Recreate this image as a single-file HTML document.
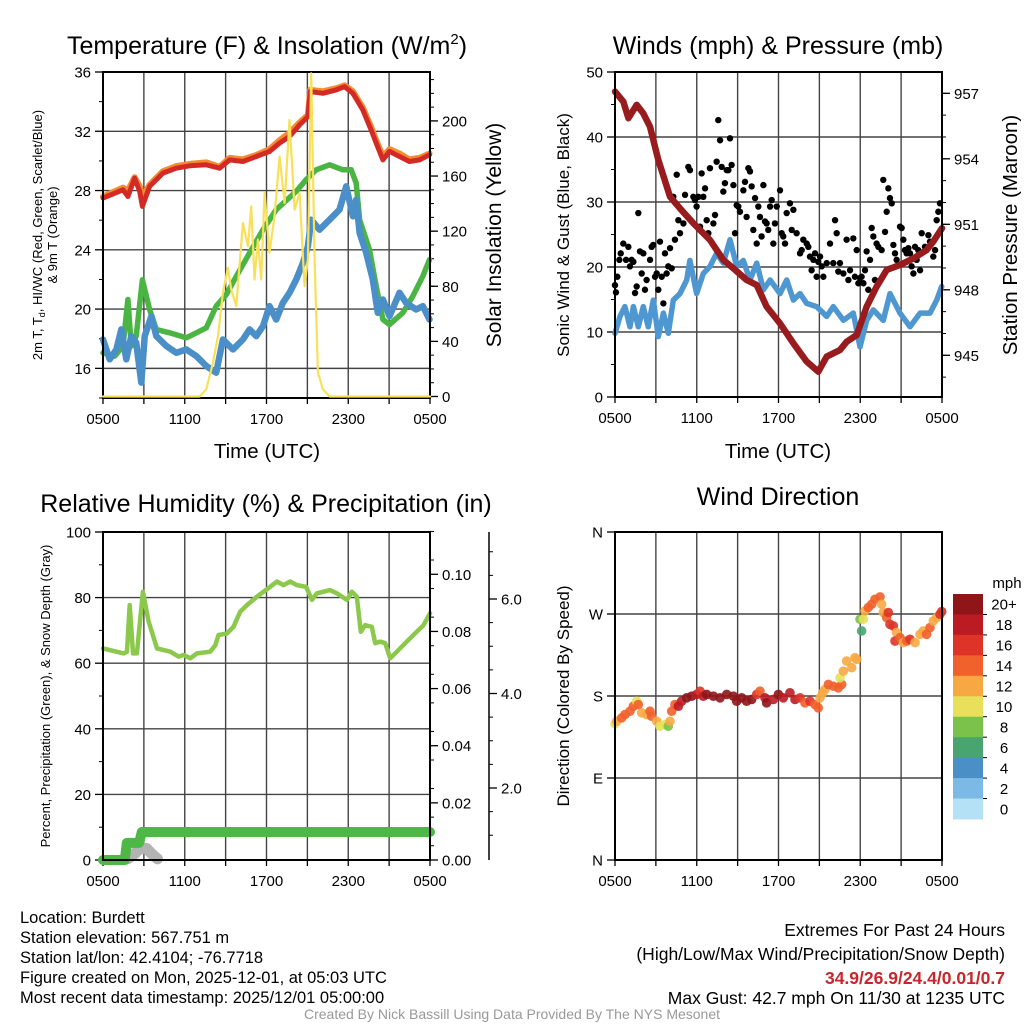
<!DOCTYPE html>
<html><head><meta charset="utf-8"><style>
html,body{margin:0;padding:0;background:#fff;}
svg text{font-family:"Liberation Sans",sans-serif;}
</style></head><body>
<svg id="root" xmlns="http://www.w3.org/2000/svg" width="1024" height="1024" viewBox="0 0 1024 1024">
<rect width="1024" height="1024" fill="#fff"/>
<g id="layer"></g>
<text x="267" y="54" font-size="25" text-anchor="middle">Temperature (F) &amp; Insolation (W/m<tspan dy="-10" font-size="15">2</tspan><tspan dy="10">)</tspan></text>
<text x="778" y="54" font-size="25" text-anchor="middle">Winds (mph) &amp; Pressure (mb)</text>
<text x="266" y="512" font-size="25" text-anchor="middle">Relative Humidity (%) &amp; Precipitation (in)</text>
<text x="778" y="505" font-size="25" text-anchor="middle">Wind Direction</text>
<text x="267" y="458" font-size="20.5" text-anchor="middle">Time (UTC)</text>
<text x="778" y="458" font-size="20.5" text-anchor="middle">Time (UTC)</text>
<text transform="translate(42,235) rotate(-90)" font-size="13" text-anchor="middle">2m T, T<tspan dy="3" font-size="9">d</tspan><tspan dy="-3">, HI/WC (Red, Green, Scarlet/Blue)</tspan></text>
<text transform="translate(57,235) rotate(-90)" font-size="13" text-anchor="middle">&amp; 9m T (Orange)</text>
<text transform="translate(501,235) rotate(-90)" font-size="21" text-anchor="middle">Solar Insolation (Yellow)</text>
<text transform="translate(569,235) rotate(-90)" font-size="17" text-anchor="middle">Sonic Wind &amp; Gust (Blue, Black)</text>
<text transform="translate(1017,235) rotate(-90)" font-size="20.5" text-anchor="middle">Station Pressure (Maroon)</text>
<text transform="translate(50,696) rotate(-90)" font-size="13" text-anchor="middle">Percent, Precipitation (Green), &amp; Snow Depth (Gray)</text>
<text transform="translate(569,696) rotate(-90)" font-size="17" text-anchor="middle">Direction (Colored By Speed)</text>
<g font-size="16.5">
<text x="20" y="923">Location: Burdett</text>
<text x="20" y="943">Station elevation: 567.751 m</text>
<text x="20" y="963">Station lat/lon: 42.4104; -76.7718</text>
<text x="20" y="983">Figure created on Mon, 2025-12-01, at 05:03 UTC</text>
<text x="20" y="1003">Most recent data timestamp: 2025/12/01 05:00:00</text>
</g>
<g font-size="17.5" text-anchor="end">
<text x="1005" y="936">Extremes For Past 24 Hours</text>
<text x="1005" y="960">(High/Low/Max Wind/Precipitation/Snow Depth)</text>
<text x="1005" y="984" fill="#c8252c" font-weight="bold">34.9/26.9/24.4/0.01/0.7</text>
<text x="1005" y="1004">Max Gust: 42.7 mph On 11/30 at 1235 UTC</text>
</g>
<text x="512" y="1019" font-size="14" fill="#999" text-anchor="middle">Created By Nick Bassill Using Data Provided By The NYS Mesonet</text>
</svg>
<script>
// ---------- data ----------
const timeTicks=["0500","1100","1700","2300","0500"];
const tempTicks=[16,20,24,28,32,36];
const solarTicks=[0,40,80,120,160,200];
const windTicks=[0,10,20,30,40,50];
const presTicks=[945,948,951,954,957];
const rhTicks=[0,20,40,60,80,100];
const precipTicks=["0.00","0.02","0.04","0.06","0.08","0.10"];
const snowTicks=["2.0","4.0","6.0"];
const dirTicks=["N","E","S","W","N"];
const speedBins=["0","2","4","6","8","10","12","14","16","18","20+"];
const speedColors=["#b5e1f7","#7cb9e4","#4a8fc6","#48a56f","#7ac24a","#e8e05a","#f8a843","#f1612b","#de3428","#bb1c24","#8f1519"];

const tH=[0,1.47,1.83,2.32,2.69,2.89,3.42,4.4,5.38,6.36,7.58,8.56,9.29,10.27,11.25,12.22,12.96,13.69,14.43,15.04,15.21,16.14,17.11,17.73,18.34,19.07,19.68,20.05,20.54,21.03,21.76,22.49,23.23,23.96];
const tempT=[27.49,28.05,27.6,28.84,27.94,26.93,28.28,29.18,29.51,29.67,29.74,29.51,30.07,29.96,30.3,30.64,31.2,31.65,32.43,32.99,34.68,34.56,34.79,35.01,34.56,33.44,32.09,31.2,30.07,30.64,30.3,29.96,30.07,30.41];
const temp9m=[27.6,28.2,28.0,28.9,28.3,27.5,28.4,29.3,29.65,29.8,29.9,29.6,30.2,30.1,30.4,30.8,31.4,31.9,32.6,33.1,34.8,34.7,34.9,35.1,34.7,33.6,32.3,31.4,30.3,30.8,30.5,30.1,30.2,30.5];
const tdH=[0,0.86,1.47,1.83,2.08,2.44,2.89,3.42,3.91,4.89,6.11,6.36,7.58,8.31,9.05,9.78,10.76,11.74,12.71,14.18,14.91,15.65,16.63,17.6,18.22,18.58,18.83,19.56,20.05,20.54,21.03,22.0,22.74,23.47,23.96];
const tempTd=[17.05,16.83,17.5,20.65,17.5,18.17,21.98,19.97,18.62,18.4,18.07,18.17,18.74,20.2,20.98,22.21,23.79,25.36,26.71,27.94,28.73,29.4,29.74,29.4,29.4,28.5,26.03,24.01,21.54,19.3,18.96,19.75,20.87,22.21,23.34];
const wcH=[0,0.49,0.98,1.34,1.71,2.08,2.44,2.81,3.06,3.55,3.91,4.65,5.38,6.11,6.85,7.58,8.31,8.8,9.54,10.27,10.76,11.25,11.74,12.22,12.71,13.2,13.69,14.18,14.67,15.04,15.28,15.89,16.63,17.36,17.85,18.34,18.58,18.83,19.32,19.8,20.17,20.54,21.03,21.76,22.25,22.98,23.47,23.96];
const tempWC=[17.95,16.61,17.28,18.63,16.61,18.18,17.73,15.04,18.18,19.52,18.18,17.5,17.05,17.28,16.83,16.16,15.71,17.95,17.28,17.95,18.63,18.18,18.85,20.2,19.3,20.42,21.1,21.99,23.11,24.24,26.03,25.36,26.03,26.71,28.28,26.26,27.38,25.14,23.79,22.0,19.75,20.65,19.52,21.1,20.42,19.97,20.2,19.3];
const solH=[0,7.09,7.58,8.07,8.44,8.8,9.17,9.41,9.78,10.27,10.64,10.88,11.12,11.37,11.61,11.86,12.22,12.59,12.96,13.33,13.69,14.06,14.43,14.79,15.04,15.28,15.53,15.77,16.14,16.63,24];
const solar=[0,0,5.3,24.6,43.9,75.3,93.4,77.7,65.6,125.9,109,138,84.9,113.9,84.9,147.6,104.3,130.8,174.2,140.4,200.7,135.6,147.6,80.1,99.4,234.5,99.4,17.5,5.3,0,0];

const presH=[0,0.61,0.98,1.59,2.08,2.57,3.18,4.04,4.77,5.75,6.97,7.95,8.69,9.66,10.4,11.13,12.11,13.09,14.07,14.92,15.54,16.51,17.0,17.74,18.47,19.2,19.94,20.92,21.9,22.87,23.36,24];
const pressure=[957.08,956.62,955.86,956.47,956.08,955.47,953.95,952.27,951.73,951.05,950.28,949.37,948.98,948.45,948.22,947.23,946.46,945.55,944.71,944.25,944.94,945.24,945.62,945.93,947.23,948.14,948.91,949.14,949.44,949.82,950.21,950.82];
const windH=[0,0.37,0.73,1.1,1.35,1.71,2.08,2.44,2.81,3.18,3.55,3.91,4.28,4.77,5.26,5.5,5.99,6.48,6.97,7.46,7.95,8.44,8.93,9.42,9.91,10.4,10.89,11.38,12.11,12.6,13.09,13.58,14.07,14.8,15.54,16.02,16.76,17.49,17.98,18.47,18.96,19.69,20.18,20.92,21.65,22.39,23.12,23.61,23.98];
const wind=[9.8,12.4,13.9,10.8,13.9,10.8,13.9,10.8,14.9,9.3,12.9,9.8,14.9,15.9,18.0,21.0,15.9,19.0,20.1,22.1,20.6,24.2,20.1,21.0,18.0,20.6,16.5,18.0,15.9,18.0,14.9,15.9,14.4,13.9,12.4,13.9,11.8,12.9,7.7,11.8,13.4,11.8,15.9,12.9,10.8,12.9,12.9,14.9,17.0];
const gustH=[0,0.07,0.17,0.32,0.42,0.61,0.81,0.98,1.1,1.22,1.35,1.47,1.59,1.71,1.83,1.96,2.08,2.2,2.32,2.57,2.69,2.81,2.94,3.06,3.18,3.3,3.43,3.55,3.67,3.79,3.91,4.04,4.16,4.28,4.4,4.53,4.65,4.77,5.02,5.14,5.38,5.5,5.75,5.87,5.99,6.12,6.24,6.36,6.48,6.61,6.73,6.85,6.97,7.22,7.34,7.46,7.58,7.71,7.83,7.95,8.07,8.2,8.32,8.44,8.56,8.69,8.81,8.93,9.05,9.17,9.42,9.54,9.66,9.79,9.91,10.03,10.15,10.28,10.4,10.52,10.64,10.76,10.89,11.01,11.13,11.25,11.38,11.5,11.62,11.74,11.87,12.11,12.23,12.35,12.48,12.6,12.84,12.97,13.09,13.33,13.58,13.7,13.82,14.07,14.19,14.31,14.43,14.56,14.68,14.8,14.92,15.05,15.17,15.29,15.54,15.78,16.02,16.15,16.27,16.39,16.51,16.76,17.0,17.13,17.25,17.49,17.61,17.74,17.86,17.98,18.1,18.23,18.35,18.47,18.59,18.72,18.84,18.96,19.08,19.2,19.33,19.57,19.69,19.82,19.94,20.06,20.18,20.31,20.43,20.55,20.67,20.92,21.04,21.16,21.28,21.41,21.53,21.65,21.77,21.9,22.02,22.14,22.26,22.39,22.51,22.75,23.0,23.12,23.36,23.49,23.61,23.73,23.85];
const gust=[17.2,16.1,18.5,21.1,22.1,23.6,21.1,23.1,20.1,21.1,20.8,16.0,17.0,28.3,22.4,19.0,22.1,16.5,18.0,21.1,23.1,23.4,18.5,19.0,16.5,23.9,18.5,14.4,22.1,19.0,20.1,22.9,19.8,30.8,24.2,34.2,27.2,25.2,26.7,31.1,35.4,34.9,30.8,30.3,29.3,30.8,26.2,34.4,30.8,32.1,27.2,25.2,35.2,26.7,28.0,36.2,42.6,39.5,35.4,31.6,32.9,34.9,34.9,39.8,35.7,32.6,25.2,29.5,29.3,28.5,31.8,33.1,27.7,35.2,34.7,32.4,25.7,30.6,23.6,29.3,27.7,24.7,32.6,27.0,26.7,25.7,29.3,30.3,23.6,26.7,29.3,31.8,25.2,24.7,23.6,28.3,29.8,25.7,28.8,25.2,22.1,22.6,24.2,23.6,23.1,21.6,19.5,21.1,22.1,18.5,20.8,21.6,20.1,18.5,20.6,23.6,20.6,27.2,25.2,19.3,20.6,19.0,24.2,18.0,19.5,24.4,18.5,22.6,17.5,18.3,18.5,17.5,19.5,22.4,16.5,21.1,26.0,24.7,18.0,23.6,23.1,22.6,33.4,25.4,28.5,32.1,30.6,29.8,23.4,22.1,21.1,26.2,26.0,24.2,22.6,22.1,22.9,22.1,20.1,19.0,23.1,21.1,22.6,19.5,25.2,23.1,24.9,23.9,21.6,22.6,27.2,28.5,29.8];

const rhH=[0,1.52,1.76,1.96,2.2,2.49,2.93,3.35,3.96,4.94,5.55,5.92,6.41,6.89,7.87,8.24,8.48,9.1,9.58,10.07,10.56,11.3,12.27,12.76,13.25,13.74,14.23,14.91,15.33,15.7,16.67,17.16,17.9,18.26,18.63,18.92,19.24,19.73,19.98,20.34,20.71,21.08,21.56,22.3,23.03,23.52,24];
const rh=[64.5,63.0,63.5,77.7,63.0,63.0,81.8,72.7,64.5,63.5,62.0,62.5,61.5,63.0,63.5,65.5,68.6,69.1,71.1,75.7,77.7,80.3,83.3,84.9,83.8,84.9,83.8,83.3,79.3,81.3,82.3,81.3,79.3,81.8,80.3,69.6,71.6,71.1,66.1,66.6,66.1,61.5,63.5,66.6,69.6,71.6,75.2];
const precipH=[0,1.6,1.75,2.65,2.85,24];
const precip=[0,0,0.006,0.006,0.0098,0.0098];
const snowH=[1.8,2.3,2.7,3.2,3.6,4.0];
const snow=[0.5,0.6,0.72,0.72,0.6,0.5];

const dirH=[0,0.12,0.49,0.73,1.1,1.35,1.59,1.71,1.96,2.32,2.57,2.69,3.06,3.3,3.67,3.91,4.04,4.16,4.4,4.65,4.89,5.26,5.63,5.99,6.24,6.48,6.73,7.22,7.71,8.2,8.69,8.93,9.3,9.66,10.03,10.4,10.64,11.01,11.13,11.62,11.99,12.35,12.84,13.21,13.58,13.94,14.31,14.68,14.92,15.05,15.24,15.41,15.66,16.02,16.39,16.64,16.51,16.76,17.0,17.37,17.61,17.74,17.98,18.1,18.23,18.35,18.59,18.84,19.08,19.45,19.57,19.69,19.94,20.06,20.18,20.43,20.67,20.55,20.92,21.16,21.41,21.65,22.02,22.39,22.63,22.87,23.12,23.36,23.61,23.85,23.98];
const dirDeg=[149.4,152.3,156.0,159.6,163.3,168.8,174.3,170.6,161.5,159.6,163.3,157.8,152.3,146.8,148.6,146.8,152.3,163.3,170.6,168.8,174.3,178.0,179.8,181.7,185.3,179.8,181.7,179.8,178.0,181.7,179.8,174.3,178.0,174.3,176.2,181.7,185.3,178.0,172.5,176.2,181.7,178.0,183.5,176.2,178.0,172.5,174.3,170.6,167.0,178.0,183.5,187.2,192.7,190.8,189.0,192.7,200.0,207.3,218.3,211.1,222.1,220.2,264.2,251.4,264.2,273.4,277.1,280.7,286.2,288.8,280.7,271.6,266.1,271.6,258.7,256.9,249.6,240.3,244.1,238.6,240.3,242.2,238.6,247.7,251.4,247.7,255.1,262.4,266.1,269.7,272.7];
const dirSpeed=[10,12,14,14,14,14,11,14,12,12,14,14,12,10,10,8,12,14,14,18,18,20,20,18,16,18,20,20,20,20,20,20,20,20,20,16,14,18,20,18,20,18,18,18,16,14,16,14,14,12,12,12,14,14,14,14,10,12,12,12,12,12,8,6,10,12,14,14,14,14,12,12,14,16,16,16,12,16,14,12,14,16,12,12,12,14,14,12,12,16,16];

// ---------- helpers ----------
const NS="http://www.w3.org/2000/svg";
const layer=document.getElementById('layer');
function mk(tag,attrs,parent){const e=document.createElementNS(NS,tag);for(const k in attrs)e.setAttribute(k,attrs[k]);(parent||layer).appendChild(e);return e;}
function lin(d0,d1,r0,r1){return v=>r0+(v-d0)/(d1-d0)*(r1-r0);}
function pathFrom(xa,ya,fx,fy){let s='';for(let i=0;i<xa.length;i++){s+=(i?'L':'M')+fx(xa[i]).toFixed(1)+','+fy(ya[i]).toFixed(1);}return s;}

function frame(name,x0,y0,x1,y1){
  const g=mk('g',{});
  
  
  const xs=lin(0,24,x0,x1);
  for(let h=3;h<24;h+=3){const l=mk('line',{x1:xs(h),x2:xs(h),y1:y0,y2:y1,stroke:'#444','stroke-width':1.4},g);
    }
  for(let h=0;h<=24;h+=3){const l=mk('line',{x1:xs(h),x2:xs(h),y1:y1,y2:y1+6,stroke:'#000','stroke-width':1.3},g);
    }
  for(let i=0;i<timeTicks.length;i++){const t=mk('text',{x:xs(i*6),y:y1+26,'font-size':15,'text-anchor':'middle'},g);t.textContent=timeTicks[i];
    }
  return {g,xs};
}
function hgrid(g,ys,vals,x0,x1){for(const v of vals){const l=mk('line',{x1:x0,x2:x1,y1:ys(v),y2:ys(v),stroke:'#444','stroke-width':1.4},g);
  }}
function yaxis(g,ys,vals,labels,x,side,minor){
  const d=side==='left'?-1:1;
  for(const m of (minor||[])){const l=mk('line',{x1:x,x2:x+d*4,y1:ys(m),y2:ys(m),stroke:'#000','stroke-width':1},g);
    }
  vals.forEach((v,i)=>{const l=mk('line',{x1:x,x2:x+d*8,y1:ys(v),y2:ys(v),stroke:'#000','stroke-width':1.3},g);
    
    const t=mk('text',{x:x+d*12,y:ys(v)+5.5,'font-size':15,'text-anchor':side==='left'?'end':'start'},g);t.textContent=labels[i];
    });
}
function box(g,x0,y0,x1,y1){const r=mk('rect',{x:x0,y:y0,width:x1-x0,height:y1-y0,fill:'none',stroke:'#000','stroke-width':2},g);
  }
function line(g,xa,ya,fx,fy,col,w,name){const p=mk('path',{d:pathFrom(xa,ya,fx,fy),fill:'none',stroke:col,'stroke-width':w,'stroke-linejoin':'round','stroke-linecap':'round'},g);
  return p;}

// ---------- panel 1: temperature ----------
(function(){
  const x0=103,y0=72,x1=430,y1=398;
  const {g,xs}=frame('temp',x0,y0,x1,y1);
  const ys=lin(14,36,y1,y0), ysol=lin(0,235.5,y1-1.5,y0);
  hgrid(g,ys,tempTicks,x0,x1);
  yaxis(g,ys,tempTicks,tempTicks.map(String),x0,'left',[14,18,22,26,30,34]);
  const mn=[];for(let v=10;v<235;v+=10)mn.push(v);
  yaxis(g,ysol,solarTicks,solarTicks.map(String),x1,'right',mn);
  line(g,tH,temp9m,xs,ys,'#f58b33',6,'temp-9m-line');
  line(g,tH,tempT,xs,ys,'#d42a26',5,'temp-2m-line');
  line(g,tdH,tempTd,xs,ys,'#4bb544',5.5,'dewpoint-line');
  line(g,wcH,tempWC,xs,ys,'#4a8fc8',6.5,'windchill-line');
  box(g,x0,y0,x1,y1);
  line(g,solH,solar,xs,ysol,'#f8e05a',2.2,'solar-line');
})();

// ---------- panel 2: wind & pressure ----------
(function(){
  const x0=615,y0=72,x1=942,y1=397;
  const {g,xs}=frame('wind',x0,y0,x1,y1);
  const ys=lin(0,50,y1,y0), yp=lin(945,957,355.3,93.3);
  hgrid(g,ys,windTicks,x0,x1);
  yaxis(g,ys,windTicks,windTicks.map(String),x0,'left',[5,15,25,35,45]);
  const pm=[];for(let v=944;v<958;v++)pm.push(v);
  yaxis(g,yp,presTicks,presTicks.map(String),x1,'right',pm);
  line(g,windH,wind,xs,ys,'#4f97d1',5.5,'sonic-wind-line');
  const gg=mk('g',{},g);
  
  
  gustH.forEach((h,i)=>{const c=mk('circle',{cx:xs(h),cy:ys(gust[i]),r:3.2,fill:'#000'},gg);
    });
  line(g,presH,pressure,xs,yp,'#981b1e',6.5,'pressure-line');
  box(g,x0,y0,x1,y1);
})();

// ---------- panel 3: RH & precip ----------
(function(){
  const x0=103,y0=532,x1=430,y1=860;
  const {g,xs}=frame('rh',x0,y0,x1,y1);
  const ys=lin(0,100,y1,y0), ypr=lin(0,0.1,y1,574.3), ysn=lin(2,6,788,599);
  hgrid(g,ys,rhTicks,x0,x1);
  yaxis(g,ys,rhTicks,rhTicks.map(String),x0,'left',[10,30,50,70,90]);
  const pm=[];for(let v=0.005;v<0.115;v+=0.01)pm.push(v);
  yaxis(g,ypr,[0,0.02,0.04,0.06,0.08,0.1],precipTicks,x1,'right',pm);
  const sx=489;
  const al=mk('line',{x1:sx,x2:sx,y1:y0,y2:y1,stroke:'#000','stroke-width':1.5},g);
  
  const sm=[];for(let v=1;v<=7;v+=0.5){if(ysn(v)>y0&&ysn(v)<y1)sm.push(v);}
  yaxis(g,ysn,[2,4,6],snowTicks,sx,'right',sm);
  line(g,snowH,snow,xs,ysn,'#b3b3b3',11,'snow-depth-line');
  line(g,rhH,rh,xs,ys,'#8cc84b',4.5,'rh-line');
  line(g,precipH,precip,xs,ypr,'#4db748',10,'precip-line');
  box(g,x0,y0,x1,y1);
})();

// ---------- panel 4: wind direction ----------
(function(){
  const x0=615,y0=532,x1=942,y1=860;
  const {g,xs}=frame('direction',x0,y0,x1,y1);
  const ys=lin(0,360,y1,y0);
  hgrid(g,ys,[90,180,270],x0,x1);
  yaxis(g,ys,[0,90,180,270,360],dirTicks,x0,'left',[]);
  const dg=mk('g',{},g);
  
  
  dirH.forEach((h,i)=>{const bin=Math.min(10,Math.floor(dirSpeed[i]/2));
    const c=mk('circle',{cx:xs(h),cy:ys(dirDeg[i]),r:4.8,fill:speedColors[bin],'fill-opacity':0.9},dg);
    });
  box(g,x0,y0,x1,y1);
  const cb=mk('g',{});
  
  
  const t=mk('text',{x:1007,y:588,'font-size':15,'text-anchor':'middle'},cb);t.textContent='mph';
  
  const h=(819-594)/11;
  for(let i=0;i<11;i++){const k=10-i;const yy=594+i*h;
    const r=mk('rect',{x:953,y:yy,width:30,height:h+0.5,fill:speedColors[k]},cb);
    
    if(i>0){const tk=mk('line',{x1:983,x2:987,y1:yy,y2:yy,stroke:'#000','stroke-width':1},cb);
      }
    const l=mk('text',{x:1004,y:yy+h/2+5.5,'font-size':15,'text-anchor':'middle'},cb);l.textContent=speedBins[k];
    }
})();
</script>
</body></html>
